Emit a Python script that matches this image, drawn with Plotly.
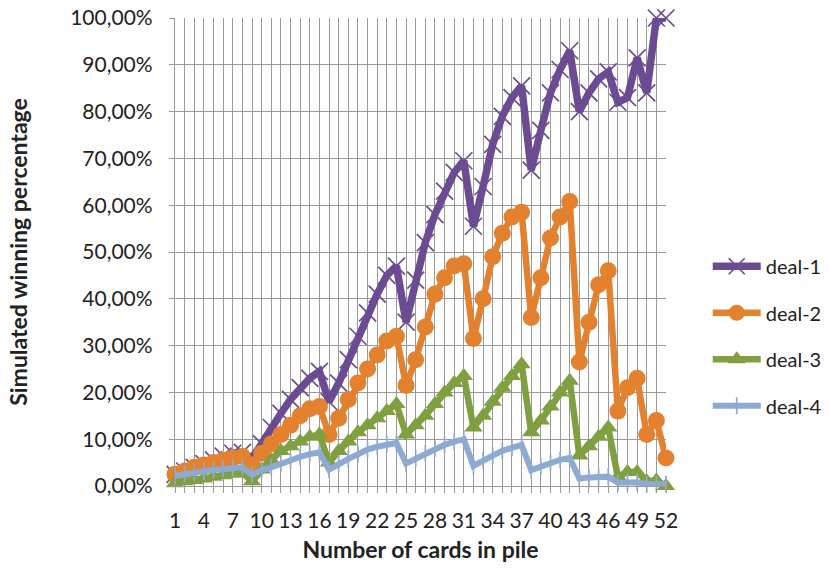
import plotly.graph_objects as go

cards = list(range(1, 53))
tick_vals = list(range(1, 53, 3))

deal1 = [2.5, 3.2, 4.0, 4.8, 5.6, 6.4, 7.0, 7.2, 6.0, 9.0, 12.5, 15.5, 18.5, 21.0, 23.0, 24.5,
         18.0, 22.0, 27.0, 32.0, 37.0, 41.0, 45.0, 47.0, 35.0, 44.0, 52.0, 58.0, 63.0, 67.0, 69.5,
         55.5, 64.0, 73.0, 79.0, 83.0, 85.5, 67.5, 76.0, 84.0, 89.0, 93.0, 80.0, 84.0, 87.0, 88.5,
         82.0, 83.0, 91.5, 84.0, 100.0, 100.0]
deal2 = [2.5, 3.2, 4.0, 4.5, 5.0, 5.5, 6.0, 6.3, 4.5, 7.0, 9.0, 11.0, 13.0, 15.0, 16.5, 17.0,
         11.0, 14.5, 18.5, 22.0, 25.0, 28.0, 31.0, 32.0, 21.5, 27.0, 34.0, 41.0, 44.5, 47.0, 47.5,
         31.5, 40.0, 49.0, 54.0, 57.5, 58.5, 36.0, 44.5, 53.0, 57.5, 60.8, 26.5, 35.0, 43.0, 46.0,
         16.0, 21.0, 23.0, 11.0, 14.0, 6.0]
deal3 = [0.6, 1.0, 1.3, 1.6, 2.0, 2.3, 2.6, 2.8, 1.0, 3.5, 5.5, 7.5, 8.5, 9.5, 10.5, 11.0,
         5.0, 7.5, 9.5, 11.5, 13.0, 14.5, 16.0, 17.5, 11.0, 13.0, 15.0, 17.5, 20.0, 22.0, 23.5,
         12.5, 15.0, 18.0, 21.0, 23.5, 26.0, 11.5, 14.0, 17.0, 20.0, 22.5, 6.5, 8.5, 10.5, 12.5,
         2.0, 3.0, 3.0, 1.0, 1.2, 0.0]
deal4 = [2.2, 2.6, 2.9, 3.1, 3.4, 3.6, 3.8, 4.0, 2.4, 3.4, 4.0, 4.8, 5.5, 6.2, 6.8, 7.2,
         3.5, 4.8, 5.8, 6.8, 7.8, 8.4, 8.9, 9.2, 4.8, 5.8, 7.0, 8.0, 8.8, 9.5, 10.0,
         4.3, 5.5, 6.5, 7.5, 8.2, 8.8, 3.4, 4.2, 5.0, 5.6, 6.0, 1.6, 1.8, 1.9, 2.0,
         0.7, 0.8, 0.8, 0.4, 0.4, 0.4]

series = [
    ("deal-1", deal1, "#6b4c93", dict(symbol="x-thin", size=17, line=dict(width=1.7, color="#6b4c93")), 7.5),
    ("deal-2", deal2, "#e3812f", dict(symbol="circle", size=17), 6.5),
    ("deal-3", deal3, "#7f9f40", dict(symbol="triangle-up", size=16), 6.5),
    ("deal-4", deal4, "#8eaad3", dict(symbol="line-ns", size=12, line=dict(width=1.7, color="#8eaad3")), 6),
]

fig = go.Figure()
for name, vals, color, marker, lw in series:
    m = dict(color=color)
    m.update(marker)
    fig.add_trace(go.Scatter(
        x=cards, y=[v / 100 for v in vals], name=name, mode="lines+markers",
        line=dict(color=color, width=lw), marker=m, cliponaxis=False,
        legendgroup=name,
    ))

FONT = "Lato"
grid = "#9a9a9a"
fig.update_layout(
    width=829, height=569,
    margin=dict(l=175, r=163, t=18, b=83, autoexpand=False),
    paper_bgcolor="white", plot_bgcolor="white",
    separators=",.",
    font=dict(family=FONT, size=21, color="#222222"),
    showlegend=True,
    legend=dict(x=1.085, xanchor="left", y=0.32, yanchor="middle",
                font=dict(family=FONT, size=20, color="#222222"),
                itemwidth=48, tracegroupgap=17.5, bgcolor="rgba(0,0,0,0)"),
    xaxis=dict(
        range=[1, 52], tickmode="array", tickvals=tick_vals,
        ticktext=[str(v) for v in tick_vals],
        showgrid=True, gridcolor=grid, gridwidth=1.3,
        minor=dict(dtick=1, tick0=1, showgrid=True, gridcolor=grid, gridwidth=1.3,
                   ticks="outside", ticklen=6, tickcolor=grid),
        ticks="outside", ticklen=6, tickcolor=grid,
        showline=True, linecolor=grid, linewidth=1.3,
        zeroline=False, ticklabelstandoff=10, automargin=False,
        tickfont=dict(family=FONT, size=21, color="#222222"),
        title=dict(text="<b>Number of cards in pile</b>", standoff=10,
                   font=dict(family=FONT, size=23, color="#222222")),
    ),
    yaxis=dict(
        range=[0, 1], dtick=0.1, tickformat=".2%",
        showgrid=True, gridcolor=grid, gridwidth=1.3,
        ticks="outside", ticklen=5, tickcolor=grid,
        showline=True, linecolor=grid, linewidth=1.3,
        zeroline=False, ticklabelstandoff=12, automargin=False,
        tickfont=dict(family=FONT, size=21, color="#222222"),
        title=dict(text="<b>Simulated winning percentage</b>", standoff=36,
                   font=dict(family=FONT, size=23, color="#222222")),
    ),
)

fig.write_html("out.html", config={"displayModeBar": False},
               post_script="document.body.style.margin='0';")
